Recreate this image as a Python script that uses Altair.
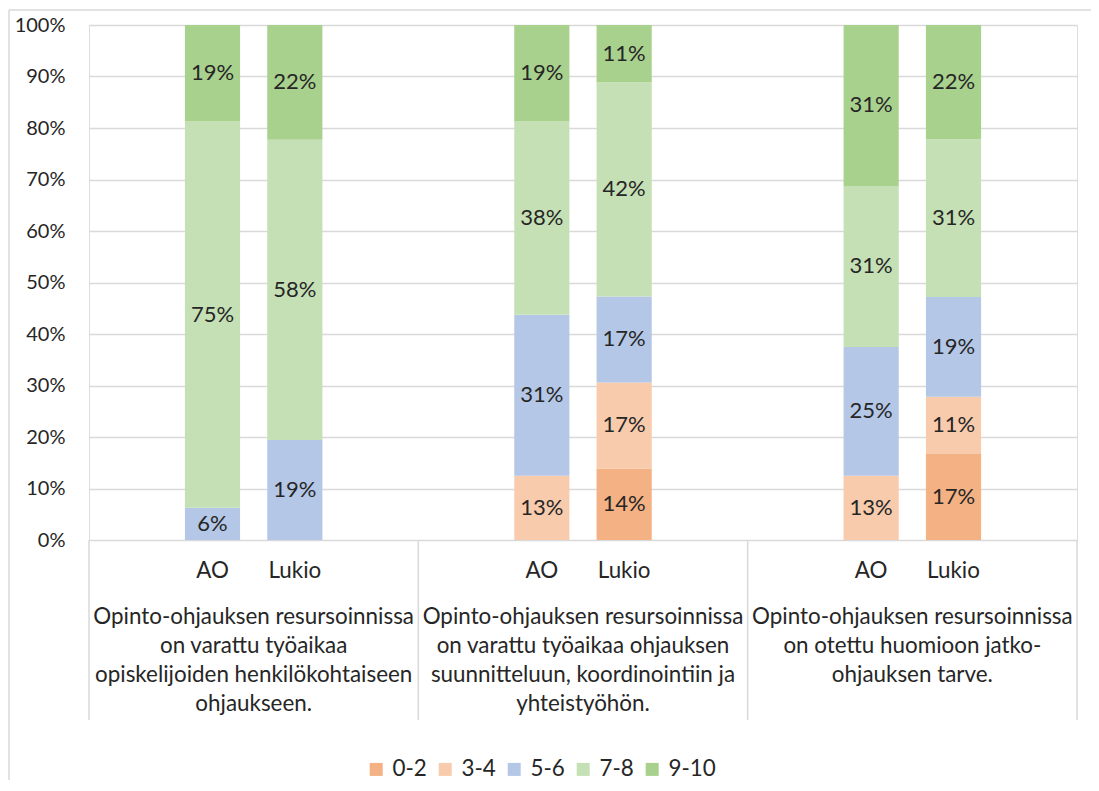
import altair as alt
import pandas as pd

# ---------------- data ----------------
categories = ["0-2", "3-4", "5-6", "7-8", "9-10"]
colors = ["#F4B183", "#F8CBAD", "#B4C7E7", "#C5E0B4", "#A9D18E"]
subgroups = ["AO", "Lukio"]
group_labels = [
    ["Opinto-ohjauksen resursoinnissa", "on varattu työaikaa",
     "opiskelijoiden henkilökohtaiseen", "ohjaukseen."],
    ["Opinto-ohjauksen resursoinnissa", "on varattu työaikaa ohjauksen",
     "suunnitteluun, koordinointiin ja", "yhteistyöhön."],
    ["Opinto-ohjauksen resursoinnissa", "on otettu huomioon jatko-",
     "ohjauksen tarve."],
]
# share (%) per category 0-2, 3-4, 5-6, 7-8, 9-10
g1_ao = [0, 0, 6.25, 75.0, 18.75]
g1_lukio = [0, 0, 19.4, 58.3, 22.3]
g2_ao = [0, 12.5, 31.25, 37.5, 18.75]
g2_lukio = [13.9, 16.7, 16.7, 41.6, 11.1]
g3_ao = [0, 12.5, 25.0, 31.25, 31.25]
g3_lukio = [16.7, 11.1, 19.4, 30.6, 22.2]
y_ticks = [0, 10, 20, 30, 40, 50, 60, 70, 80, 90, 100]

series = [[g1_ao, g1_lukio], [g2_ao, g2_lukio], [g3_ao, g3_lukio]]

# ---------------- tables ----------------
slots = []
for g in range(len(series)):
    slots += [f"{g}_pre", f"{g}_{subgroups[0]}", f"{g}_{subgroups[1]}", f"{g}_post"]

rows = []
for g, pair in enumerate(series):
    for s, vals in enumerate(pair):
        for i, v in enumerate(vals):
            rows.append({"slot": f"{g}_{subgroups[s]}", "cat": categories[i],
                         "idx": i, "value": v})
df = pd.DataFrame(rows)

sub_df = pd.DataFrame([{"slot": f"{g}_{s}", "label": s}
                       for g in range(len(series)) for s in subgroups])
grp_df = pd.DataFrame([{"pos": g + 0.5, "label": lines}
                       for g, lines in enumerate(group_labels)])
sep_df = pd.DataFrame({"pos": list(range(len(series) + 1))})

W, H = 988, 515
TXT = "#262626"
GRID = "#D9D9D9"
FONT = "Lato"
FS = 22.4

xscale = alt.Scale(domain=slots, paddingInner=0.33, paddingOuter=0.165)
yscale = alt.Scale(domain=[0, 100])

base = alt.Chart(df).transform_filter("datum.value > 0").transform_stack(
    stack="value", groupby=["slot"], sort=[{"field": "idx", "order": "ascending"}],
    as_=["y0", "y1"]
).transform_calculate(mid="(datum.y0 + datum.y1) / 2",
                      lab="round(datum.value) + '%'")

bars = base.mark_bar().encode(
    x=alt.X("slot:N", scale=xscale, axis=None),
    y=alt.Y("y0:Q", scale=yscale,
            axis=alt.Axis(values=y_ticks, labelExpr="datum.value + '%'", title=None,
                          domain=False, ticks=False, grid=True, gridColor=GRID,
                          gridWidth=1.3, labelPadding=24, labelFontSize=20,
                          labelColor=TXT, labelFont=FONT)),
    y2="y1:Q",
    color=alt.Color("cat:N", scale=alt.Scale(domain=categories, range=colors),
                    legend=alt.Legend(orient="none", legendX=276, legendY=733,
                                      direction="horizontal", title=None,
                                      symbolType="square", symbolSize=169,
                                      symbolStrokeWidth=0, labelFontSize=FS,
                                      labelFont=FONT, labelColor=TXT,
                                      labelOffset=5, columnPadding=7, padding=0)),
)

labels = base.mark_text(fontSize=22, font=FONT, color=TXT, baseline="middle").encode(
    x=alt.X("slot:N", scale=xscale, axis=None),
    y=alt.Y("mid:Q", scale=yscale),
    text="lab:N",
)

sub_labels = alt.Chart(sub_df).mark_text(fontSize=FS, font=FONT, color=TXT,
                                         baseline="middle").encode(
    x=alt.X("slot:N", scale=xscale, axis=None),
    y=alt.value(H + 31),
    text="label:N",
)

gscale = alt.Scale(domain=[0, len(series)], nice=False, zero=True)
grp_text = alt.Chart(grp_df).mark_text(fontSize=FS, font=FONT, color=TXT,
                                       baseline="top", lineHeight=29).encode(
    x=alt.X("pos:Q", scale=gscale, axis=None),
    y=alt.value(H + 66),
    text="label",
)
separators = alt.Chart(sep_df).mark_rule(color=GRID, strokeWidth=1.5).encode(
    x=alt.X("pos:Q", scale=gscale, axis=None),
    y=alt.value(H),
    y2=alt.value(H + 180),
)

one = pd.DataFrame({"a": [0]})
border_top = alt.Chart(one).mark_rule(color=GRID, strokeWidth=1.5).encode(
    x=alt.value(-80), x2=alt.value(W + 14), y=alt.value(-15))
border_left = alt.Chart(one).mark_rule(color=GRID, strokeWidth=1.5).encode(
    x=alt.value(-80), y=alt.value(-15), y2=alt.value(H + 245))

chart = alt.layer(
    border_top, border_left, bars, labels, sub_labels, grp_text, separators
).resolve_scale(x="independent").properties(
    width=W, height=H,
    autosize=alt.AutoSizeParams(type="none"),
    padding={"left": 81, "top": 17, "right": 14, "bottom": 240},
).configure_view(stroke=None).configure(font=FONT, background="white")

chart.save("out.html", embed_options={"renderer": "svg", "actions": False})
